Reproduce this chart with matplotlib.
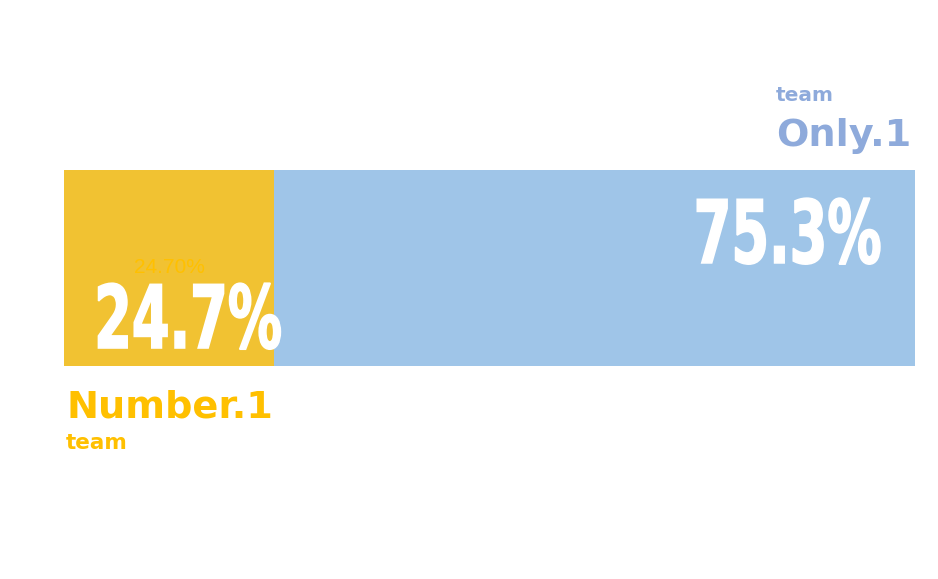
import matplotlib
matplotlib.use('Agg')
import matplotlib.pyplot as plt
from matplotlib.patheffects import AbstractPathEffect
from matplotlib.transforms import Affine2D

# share of the two teams, one stacked bar
teams = ['Number.1', 'Only.1']
shares = [24.7, 75.3]
bar_colors = ['#F1C232', '#9FC5E8']
label_colors = ['#FFC000', '#8EAADB']


class Tall(AbstractPathEffect):
    # stretch glyphs upward from the baseline and thicken them a bit,
    # no condensed heavy font installed
    def __init__(self, sy, lw=1.2):
        super().__init__()
        self.sy = sy
        self.lw = lw

    def draw_path(self, renderer, gc, tpath, affine, rgbFace=None):
        gc0 = renderer.new_gc()
        gc0.copy_properties(gc)
        gc0.set_linewidth(self.lw)
        gc0.set_foreground(rgbFace)
        gc0.set_joinstyle('miter')
        renderer.draw_path(gc0, tpath, Affine2D().scale(1, self.sy) + affine, rgbFace)
        gc0.restore()


fig = plt.figure(figsize=(9.38, 5.79), dpi=100)
ax = fig.add_axes([64 / 938, 1 - 366 / 579, 851 / 938, 196 / 579])

left = 0
for share, c in zip(shares, bar_colors):
    ax.barh(0, share, left=left, height=1.0, color=c, linewidth=0)
    left += share

ax.set_xlim(0, sum(shares))
ax.set_ylim(-0.5, 0.5)
ax.axis('off')

trans = ax.get_xaxis_transform()
big = dict(family='DejaVu Sans', weight='bold', color='white', fontsize=39,
           path_effects=[Tall(1.61)], clip_on=False)

# small value label at the centre of the first segment
ax.text(shares[0] / 2, 0.505, '{:.2f}%'.format(shares[0]), transform=trans,
        ha='center', va='center', fontsize=15, family='Liberation Sans',
        color=label_colors[0])

ax.text(14.57, 0.092, '{:.1f}%'.format(shares[0]), transform=trans,
        ha='center', va='baseline', **big)
ax.text(85.02, 0.526, '{:.1f}%'.format(shares[1]), transform=trans,
        ha='center', va='baseline', **big)

name = dict(family='DejaVu Sans', weight='bold', fontsize=27.5, clip_on=False)

ax.text(0.24, -0.265, teams[0], transform=trans, ha='left', va='baseline',
        color=label_colors[0], **name)
ax.text(0.24, -0.423, 'team', transform=trans, ha='left', va='baseline',
        color=label_colors[0], family='DejaVu Sans', weight='bold',
        fontsize=15.5, clip_on=False)
ax.text(83.67, 1.122, teams[1], transform=trans, ha='left', va='baseline',
        color=label_colors[1], **name)
ax.text(83.67, 1.352, 'team', transform=trans, ha='left', va='baseline',
        color=label_colors[1], family='DejaVu Sans', weight='bold',
        fontsize=14.5, clip_on=False)

fig.savefig('out.png', dpi=100)
